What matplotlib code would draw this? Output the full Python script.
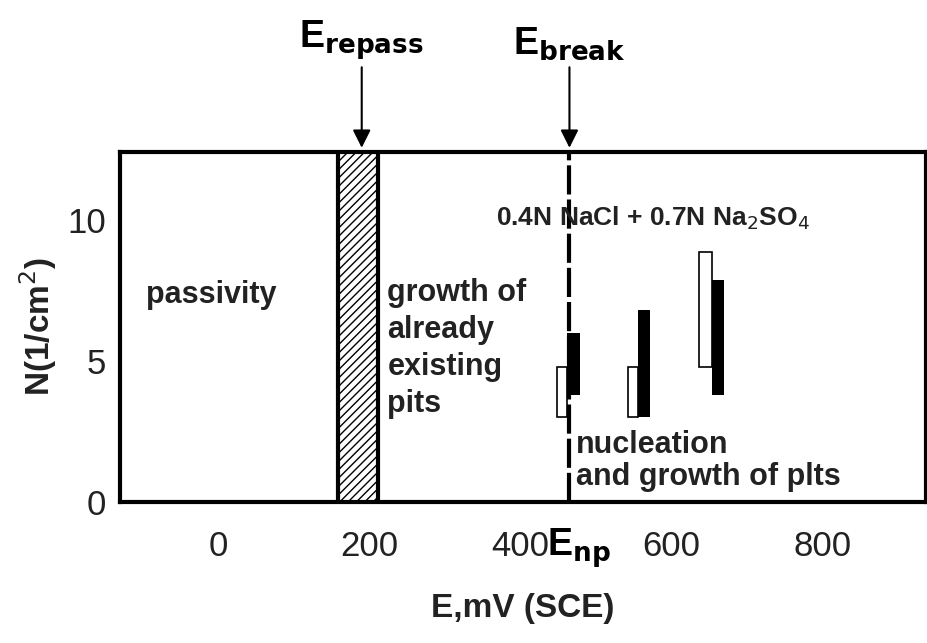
import matplotlib.pyplot as plt
import matplotlib as mpl

mpl.rcParams['font.family'] = ['Liberation Sans', 'DejaVu Sans']
mpl.rcParams['hatch.linewidth'] = 1.0

# open bars: left edge, width, bottom, top
open_x = [449, 542, 636]
open_w = [13, 14, 18]
open_lo = [3.0, 3.0, 4.8]
open_hi = [4.8, 4.8, 8.85]
# filled bars
fill_x = [462, 556, 654]
fill_w = [17, 16, 15]
fill_lo = [3.8, 3.0, 3.8]
fill_hi = [6.0, 6.8, 7.85]

E_repass_lo, E_repass_hi = 158, 211
E_break = 465

fig = plt.figure(figsize=(9.27, 6.43), dpi=100)
ax = fig.add_axes([120/927, 141/643, 806/927, 350/643])
ax.set_xlim(-130, 937)
ax.set_ylim(0, 12.4)

ax.axvspan(E_repass_lo, E_repass_hi, facecolor='white', edgecolor='black', hatch='////', lw=0)
ax.axvline(E_repass_lo, color='black', lw=3)
ax.axvline(E_repass_hi, color='black', lw=3)
ax.axvline(E_break, color='black', lw=3, ls=(0, (7, 1.2)))

for x, w, lo, hi in zip(open_x, open_w, open_lo, open_hi):
    ax.bar(x, hi - lo, width=w, bottom=lo, align='edge', facecolor='white', edgecolor='black', lw=1.2, zorder=3)
for x, w, lo, hi in zip(fill_x, fill_w, fill_lo, fill_hi):
    ax.bar(x, hi - lo, width=w, bottom=lo, align='edge', color='black', zorder=4)

for s in ax.spines.values():
    s.set_linewidth(3)
ax.set_xticks([0, 200, 400, 600, 800])
ax.set_yticks([0, 5, 10])
ax.tick_params(labelsize=25, length=0, pad=10, labelcolor='#222222')
ax.tick_params(axis='x', pad=20)

bold = dict(fontsize=22, fontweight='bold', color='#222222')
ax.text(-95, 7.05, 'passivity', **bold)
ax.text(224, 3.2, 'growth of\nalready\nexisting\npits', linespacing=1.3, **bold)
ax.text(474, 0.6, 'nucleation\nand growth of plts', linespacing=1.1, **bold)
ax.text(368, 9.8, '0.4N NaCl + 0.7N Na$_2$SO$_4$', fontsize=19, fontweight='bold', color='#222222')

ax.set_xlabel('E,mV (SCE)', fontsize=24, fontweight='bold', labelpad=22, color='#222222')
ax.set_ylabel('N(1/cm$^2$)', fontsize=24, fontweight='bold', labelpad=6, color='#222222')

ax.text(478, -0.85, 'E$_{\\mathbf{np}}$', fontsize=27, fontweight='bold', ha='center', va='top')
ax.annotate('E$_{\\mathbf{repass}}$', xy=(190, 12.45), xytext=(190, 15.6), fontsize=27, fontweight='bold',
            ha='center', va='bottom', annotation_clip=False,
            arrowprops=dict(arrowstyle='-|>', color='black', lw=1.5))
ax.annotate('E$_{\\mathbf{break}}$', xy=(E_break, 12.45), xytext=(E_break, 15.6), fontsize=27, fontweight='bold',
            ha='center', va='bottom', annotation_clip=False,
            arrowprops=dict(arrowstyle='-|>', color='black', lw=1.5))

fig.savefig('out.png', dpi=100)
